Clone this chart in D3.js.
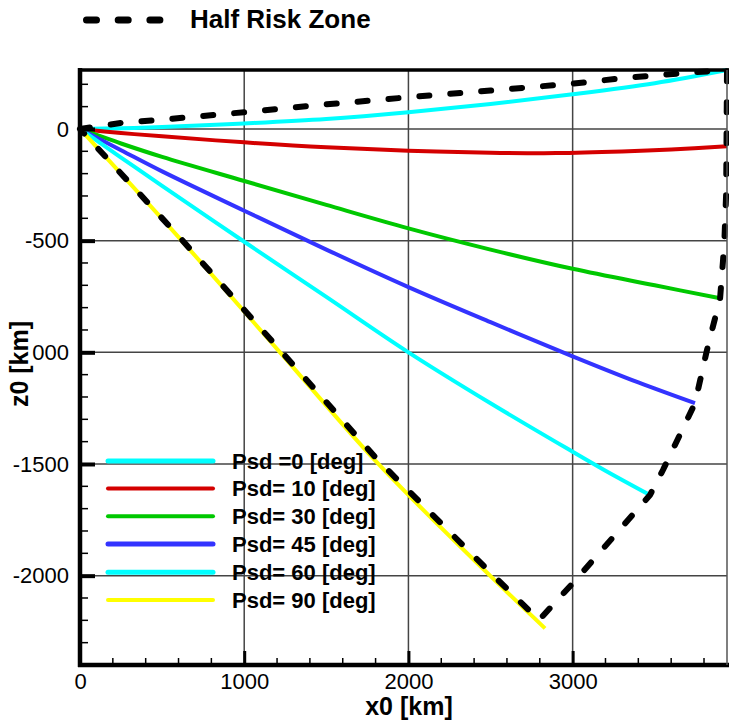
<!DOCTYPE html>
<html>
<head>
<meta charset="utf-8">
<script src="https://cdn.jsdelivr.net/npm/d3@7"></script>
<style>
  body { margin: 0; background: #fff; }
  svg { display: block; font-family: "Liberation Sans", Arial, sans-serif; }
</style>
</head>
<body>
<div id="graph"></div>
<script>
// CURVES, [x0 km, z0 km]
var psd0  = [[0,0],[250,3],[500,9],[1000,25],[1500,45],[2000,75],[2500,112],[3000,155],[3500,205],[3940,264]]
var psd10 = [[0,0],[250,-18],[500,-33],[1000,-60],[1500,-82],[2000,-97],[2500,-106],[2900,-108],[3300,-101],[3600,-92],[3940,-77]]
var psd30 = [[0,0],[250,-65],[500,-125],[1000,-233],[1500,-340],[2000,-445],[2500,-540],[3000,-626],[3500,-700],[3898,-758]]
var psd45 = [[0,0],[250,-95],[500,-190],[1000,-366],[1500,-540],[2000,-708],[2500,-865],[3000,-1018],[3400,-1135],[3745,-1228]]
var psd60 = [[0,0],[250,-128],[500,-255],[1000,-505],[1500,-752],[2000,-1000],[2500,-1228],[3000,-1445],[3200,-1530],[3471,-1639]]
var psd90 = [[0,0],[619,-500],[1218,-1000],[1817,-1500],[2497,-2000],[2832,-2236]]
// HALF RISK ZONE OUTLINE
var halfRisk = [[0,0],[250,27],[500,42],[1000,75],[1500,110],[2000,142],[2500,172],[3000,203],[3300,227],[3670,250],[3940,264],
  [3935,-287],[3925,-484],[3916,-587],[3898,-758],[3818,-990],[3745,-1228],[3550,-1527],[3471,-1639],[3002,-2033],[2795,-2199],
  [2497,-1985],[1817,-1485],[1218,-990],[619,-495],[0,0]]

var seriesNames = ['Psd =0 [deg]', 'Psd= 10 [deg]', 'Psd= 30 [deg]', 'Psd= 45 [deg]', 'Psd= 60 [deg]', 'Psd= 90 [deg]']
var seriesColors = ['#00ffff', '#d40000', '#00c800', '#3333ff', '#00ffff', '#ffff00']
var seriesData = [psd0, psd10, psd30, psd45, psd60, psd90]

// TICKS
var xMajor = [0, 1000, 2000, 3000]
var yMajor = [0, -500, -1000, -1500, -2000]
var xMinor = d3.range(200, 3940, 200)
var yMinor = d3.range(-2300, 264, 100)

var W = 729, H = 722
// plot box in pixels
var box = {left: 80, right: 727, top: 70, bottom: 665}

var svg = d3.select('#graph').append('svg')
  .attr('width', W).attr('height', H)

var x = d3.scaleLinear().domain([0, 3940]).range([box.left, box.right])
var y = d3.scaleLinear().domain([-2400, 264]).range([box.bottom, box.top])

// GRID
svg.append('g').selectAll('line').data([1000, 2000, 3000]).enter().append('line')
  .attr('x1', d => x(d)).attr('x2', d => x(d))
  .attr('y1', box.top).attr('y2', box.bottom)
  .attr('stroke', '#444').attr('stroke-width', 1.5)
svg.append('g').selectAll('line').data(yMajor).enter().append('line')
  .attr('x1', box.left).attr('x2', box.right)
  .attr('y1', d => y(d)).attr('y2', d => y(d))
  .attr('stroke', '#444').attr('stroke-width', 1.5)

// CURVES
var line = d3.line().x(d => x(d[0])).y(d => y(d[1])).curve(d3.curveCatmullRom)
svg.append('g').selectAll('path').data(seriesData).enter().append('path')
  .attr('d', d => line(d))
  .attr('fill', 'none')
  .attr('stroke', (d, i) => seriesColors[i])
  .attr('stroke-width', 4)

var riskLine = d3.line().x(d => x(d[0])).y(d => y(d[1]))
svg.append('path')
  .attr('d', riskLine(halfRisk))
  .attr('fill', 'none')
  .attr('stroke', '#000')
  .attr('stroke-width', 6)
  .attr('stroke-linecap', 'round')
  .attr('stroke-dasharray', '10,21')

// AXES (TICKS INSIDE)
var yAxis = svg.append('g').attr('transform', `translate(${box.left},0)`)
  .call(d3.axisLeft(y).tickValues(yMajor).tickSize(-15).tickPadding(11).tickFormat(d => String(d)))
yAxis.select('.domain').remove()
yAxis.selectAll('.tick line').attr('stroke-width', 4)
yAxis.selectAll('text').style('font-size', '22px').attr('fill', '#000')

svg.append('g').selectAll('line').data(yMinor.filter(d => yMajor.indexOf(d) < 0)).enter().append('line')
  .attr('x1', box.left).attr('x2', box.left + 8)
  .attr('y1', d => y(d)).attr('y2', d => y(d))
  .attr('stroke', '#000').attr('stroke-width', 1.5)

var xAxis = svg.append('g').attr('transform', `translate(0,${box.bottom})`)
  .call(d3.axisBottom(x).tickValues(xMajor).tickSize(-14).tickPadding(8).tickFormat(d => String(d)))
xAxis.select('.domain').remove()
xAxis.selectAll('.tick line').attr('stroke-width', 3)
xAxis.selectAll('text').style('font-size', '22px').attr('fill', '#000')

svg.append('g').selectAll('line').data(xMinor.filter(d => d % 1000 != 0)).enter().append('line')
  .attr('x1', d => x(d)).attr('x2', d => x(d))
  .attr('y1', box.bottom).attr('y2', box.bottom - 7)
  .attr('stroke', '#000').attr('stroke-width', 1.5)

// FRAME
svg.append('line').attr('x1', box.left).attr('x2', box.left).attr('y1', box.top - 2).attr('y2', box.bottom + 2)
  .attr('stroke', '#000').attr('stroke-width', 4.5)
svg.append('line').attr('x1', box.left - 2).attr('x2', W).attr('y1', box.bottom).attr('y2', box.bottom)
  .attr('stroke', '#000').attr('stroke-width', 4.5)
svg.append('line').attr('x1', box.left - 2).attr('x2', W).attr('y1', box.top).attr('y2', box.top)
  .attr('stroke', '#000').attr('stroke-width', 3.5)
svg.append('line').attr('x1', box.right).attr('x2', box.right).attr('y1', box.top).attr('y2', box.bottom)
  .attr('stroke', '#555').attr('stroke-width', 1.5)

// AXIS TITLES
svg.append('text')
  .attr('x', 409).attr('y', 715)
  .style('text-anchor', 'middle')
  .style('font-size', '25px').style('font-weight', 'bold')
  .text('x0 [km]')

svg.append('rect').attr('x', 0).attr('y', 318).attr('width', 32).attr('height', 92).attr('fill', '#fff')
svg.append('text')
  .attr('transform', 'translate(28,364) rotate(-90)')
  .style('text-anchor', 'middle')
  .style('font-size', '25px').style('font-weight', 'bold')
  .text('z0 [km]')

// TOP LEGEND
svg.append('line')
  .attr('x1', 86.5).attr('x2', 161).attr('y1', 20).attr('y2', 20)
  .attr('stroke', '#000').attr('stroke-width', 7)
  .attr('stroke-linecap', 'round').attr('stroke-dasharray', '10,21.7')
svg.append('text')
  .attr('x', 190).attr('y', 28)
  .style('font-size', '26px').style('font-weight', 'bold')
  .text('Half Risk Zone')

// INSIDE LEGEND
var legendY = [461, 488.5, 516.3, 544, 572.2, 600]
var legendW = [5, 4, 4, 5, 5, 4]
var lg = svg.append('g').selectAll('g').data(seriesNames).enter().append('g')
lg.append('line')
  .attr('x1', 108).attr('x2', 213)
  .attr('y1', (d, i) => legendY[i]).attr('y2', (d, i) => legendY[i])
  .attr('stroke', (d, i) => seriesColors[i])
  .attr('stroke-width', (d, i) => legendW[i])
  .attr('stroke-linecap', 'round')
lg.append('text')
  .attr('x', 232).attr('y', (d, i) => legendY[i])
  .attr('dy', '0.36em')
  .style('font-size', '22px').style('font-weight', 'bold')
  .text(d => d)
</script>
</body>
</html>
